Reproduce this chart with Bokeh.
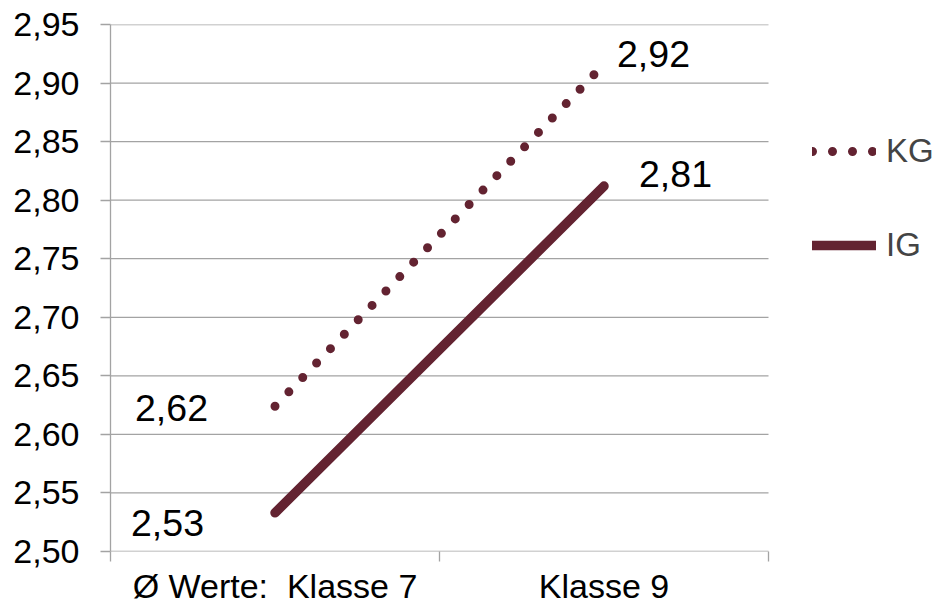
from bokeh.plotting import figure
from bokeh.models import FixedTicker, Legend, LegendItem, Range1d
from bokeh.core.properties import value
from bokeh.embed import file_html
from bokeh.resources import INLINE

# ---- data ----
categories = ["Ø Werte:\u00a0 Klasse 7", "Klasse 9"]
cat_pos = [0.5, 1.5]
cat_bounds = [0, 1, 2]
kg_values = [2.624, 2.916]
ig_values = [2.533, 2.812]
kg_labels = ["2,62", "2,92"]
ig_labels = ["2,53", "2,81"]
y_ticks = [2.50, 2.55, 2.60, 2.65, 2.70, 2.75, 2.80, 2.85, 2.90, 2.95]
y_tick_labels = ["2,50", "2,55", "2,60", "2,65", "2,70", "2,75", "2,80", "2,85", "2,90", "2,95"]
series_names = ["KG", "IG"]

COLOR = "#632331"
GRID = "#a3a3a3"
FONT = "Liberation Sans"

W, H = 939, 607
LEFT, RIGHT_PLOT, TOP, BOTTOM = 110, 768, 24, 552
# frame spans to the right edge so the legend can live inside it;
# the x range is widened so that the category area ends at x = 2
x_end = cat_bounds[-1] * (W - LEFT) / (RIGHT_PLOT - LEFT)

p = figure(width=W, height=H, output_backend="svg", toolbar_location=None,
           x_range=Range1d(0, x_end), y_range=Range1d(2.50, 2.95),
           min_border_left=LEFT, min_border_right=0, min_border_top=TOP,
           min_border_bottom=H - BOTTOM)
p.outline_line_color = None
p.background_fill_color = "white"
p.border_fill_color = "white"

# y axis
p.yaxis.ticker = FixedTicker(ticks=y_ticks, minor_ticks=[])
p.yaxis.major_label_overrides = {t: l for t, l in zip(y_ticks, y_tick_labels)}
p.yaxis.major_label_text_font = FONT
p.yaxis.major_label_text_font_size = "34px"
p.yaxis.major_label_text_color = "black"
p.yaxis.major_tick_out = 10
p.yaxis.major_tick_in = 0
p.yaxis.minor_tick_line_color = None
p.yaxis.axis_line_color = GRID
p.yaxis.major_tick_line_color = GRID
p.yaxis.axis_line_width = 1.3
p.yaxis.major_tick_line_width = 1.3
p.yaxis.major_label_standoff = 21

# x axis
p.xaxis.ticker = FixedTicker(ticks=cat_pos, minor_ticks=cat_bounds)
p.xaxis.major_label_overrides = {t: l for t, l in zip(cat_pos, categories)}
p.xaxis.major_label_text_font = FONT
p.xaxis.major_label_text_font_size = "34px"
p.xaxis.major_label_text_color = "black"
p.xaxis.major_tick_out = 0
p.xaxis.major_tick_in = 0
p.xaxis.major_tick_line_color = None
p.xaxis.minor_tick_out = 10
p.xaxis.minor_tick_in = 0
p.xaxis.minor_tick_line_color = GRID
p.xaxis.minor_tick_line_width = 1.3
p.xaxis.axis_line_color = None
p.xaxis.major_label_standoff = 5

p.xgrid.grid_line_color = None
p.ygrid.grid_line_color = None
# horizontal gridlines (and x axis line) limited to the category area
p.segment(x0=[cat_bounds[0]] * len(y_ticks), x1=[cat_bounds[-1]] * len(y_ticks),
          y0=y_ticks, y1=y_ticks, line_color=GRID, line_width=1.3)

# lines
kg = p.line(cat_pos, kg_values, line_color=COLOR, line_width=9,
            line_dash="0 20", line_cap="round")
ig = p.line(cat_pos, ig_values, line_color=COLOR, line_width=9.5, line_cap="round")

# data labels
def lbl(x, y, t, align, xo, yo):
    p.text(x=[x], y=[y], text=[t], text_font=value(FONT), text_font_size="37.5px",
           text_color="black", text_align=align, text_baseline="middle",
           x_offset=xo, y_offset=yo)

lbl(cat_pos[0], kg_values[0], kg_labels[0], "right", -67, 2)
lbl(cat_pos[1], kg_values[1], kg_labels[1], "left", 13, -10)
lbl(cat_pos[0], ig_values[0], ig_labels[0], "right", -71, 10)
lbl(cat_pos[1], ig_values[1], ig_labels[1], "left", 35, -12)

legend = Legend(items=[LegendItem(label=series_names[0], renderers=[kg]),
                       LegendItem(label=series_names[1], renderers=[ig])],
                location=(702, 286), orientation="vertical",
                glyph_width=64, glyph_height=40, label_height=40,
                spacing=54, padding=0, margin=0, label_standoff=10,
                label_text_font=FONT, label_text_font_size="33px",
                border_line_color=None, background_fill_alpha=0)
p.add_layout(legend, "center")

open("out.html", "w").write(file_html(p, INLINE))
